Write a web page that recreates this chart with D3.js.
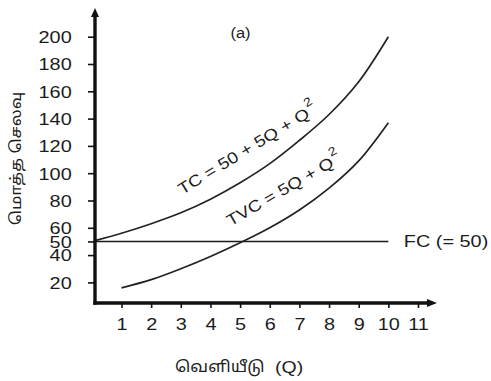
<!DOCTYPE html>
<html>
<head>
<meta charset="utf-8">
<script src="https://cdn.jsdelivr.net/npm/d3@7"></script>
<style>
  html, body { margin: 0; padding: 0; background: #fff; }
  svg { display: block; }
  text { font-family: "Liberation Sans", Arial, Helvetica, sans-serif; fill: #1c1c1c; }
  .tamil { font-family: "Noto Sans Tamil", "Lohit Tamil", "Latha", "Noto Sans", sans-serif; }
</style>
</head>
<body>
<svg id="chart" width="491" height="381"></svg>
<script>
// Output levels and cost readings
const quantity = [0, 1, 2, 3, 4, 5, 6, 7, 8, 9, 10];
const totalCost = [50, 56, 63, 71, 81, 93, 107, 124, 143, 167, 200];
const variableQuantity = [1, 2, 3, 4, 5, 6, 7, 8, 9, 10];
const totalVariableCost = [16, 22, 30, 39, 49, 60, 73, 89, 109, 137];
const fixedCostLevel = 50;
const fixedCostRange = [0, 10];

const xTicks = [1, 2, 3, 4, 5, 6, 7, 8, 9, 10, 11];
const yTicks = [20, 40, 50, 60, 80, 100, 120, 140, 160, 180, 200];

const xTitleWord = "வெளியீடு";
const xTitleSymbol = "(Q)";
const yTitle = "மொத்த செலவு";
const panelTag = "(a)";
const fcLabel = "FC (= 50)";

const svg = d3.select("#chart");
const W = 491, H = 381;

const axisX = 95;     // where the vertical axis sits
const axisY = 303;    // where the horizontal axis sits
const stretch = 1.22; // horizontal stretch of the lettering
const fontPx = 16.3;

const x = d3.scaleLinear().domain([1, 11]).range([121.5, 418]);
const y = d3.scaleLinear().domain([20, 200]).range([282.4, 36.7]);

// clip so curves start at the vertical axis
svg.append("defs").append("clipPath").attr("id", "plotClip")
  .append("rect").attr("x", axisX).attr("y", 0).attr("width", W - axisX).attr("height", axisY);

const line = d3.line()
  .x(d => x(d[0]))
  .y(d => y(d[1]))
  .curve(d3.curveCatmullRom.alpha(0.5));

const plot = svg.append("g").attr("clip-path", "url(#plotClip)");

// fixed cost
plot.append("line")
  .attr("x1", x(fixedCostRange[0])).attr("x2", x(fixedCostRange[1]))
  .attr("y1", y(fixedCostLevel)).attr("y2", y(fixedCostLevel))
  .attr("stroke", "#1a1a1a").attr("stroke-width", 1.4);

// total cost
plot.append("path")
  .datum(d3.zip(quantity, totalCost))
  .attr("d", line)
  .attr("fill", "none").attr("stroke", "#222").attr("stroke-width", 1.7);

// total variable cost
plot.append("path")
  .datum(d3.zip(variableQuantity, totalVariableCost))
  .attr("d", line)
  .attr("fill", "none").attr("stroke", "#222").attr("stroke-width", 1.7);

// y axis ticks and labels
const yAxisG = svg.append("g")
  .attr("transform", `translate(${axisX},0)`)
  .call(d3.axisLeft(y).tickValues(yTicks).tickSize(7).tickPadding(16.3).tickSizeOuter(0));
yAxisG.select(".domain").remove();
yAxisG.selectAll(".tick line").attr("stroke", "#111").attr("stroke-width", 1.6);
yAxisG.selectAll(".tick text")
  .attr("font-size", fontPx).attr("font-family", null)
  .attr("fill", "#1c1c1c")
  .each(function () {
    const t = d3.select(this);
    const tx = +t.attr("x");
    t.attr("x", 0).attr("dy", null).attr("y", 0)
      .attr("transform", `translate(${tx},5.8) scale(${stretch},1)`);
  });

// x axis ticks and labels
const xAxisG = svg.append("g")
  .attr("transform", `translate(0,${axisY})`)
  .call(d3.axisBottom(x).tickValues(xTicks).tickSize(5).tickPadding(10).tickSizeOuter(0));
xAxisG.select(".domain").remove();
xAxisG.selectAll(".tick line").attr("stroke", "#111").attr("stroke-width", 1.6);
xAxisG.selectAll(".tick text")
  .attr("font-size", fontPx).attr("font-family", null)
  .attr("fill", "#1c1c1c")
  .each(function () {
    const t = d3.select(this);
    t.attr("y", 0).attr("dy", null)
      .attr("transform", `translate(0,26.5) scale(${stretch},1)`);
  });

// axis lines with arrowheads
svg.append("line")
  .attr("x1", axisX).attr("x2", axisX).attr("y1", axisY + 1.7).attr("y2", 15)
  .attr("stroke", "#111").attr("stroke-width", 3.4);
svg.append("path")
  .attr("d", `M${axisX},8 L${axisX - 4},17 L${axisX + 4},17 Z`)
  .attr("fill", "#111");
svg.append("line")
  .attr("x1", axisX - 1.7).attr("x2", 429).attr("y1", axisY).attr("y2", axisY)
  .attr("stroke", "#111").attr("stroke-width", 3.4);
svg.append("path")
  .attr("d", `M437,${axisY} L427,${axisY - 4} L427,${axisY + 4} Z`)
  .attr("fill", "#111");

// axis titles
svg.append("text")
  .attr("class", "tamil")
  .attr("transform", `translate(20.5,158.5) rotate(-90) scale(1.12,1)`)
  .attr("text-anchor", "middle")
  .attr("font-size", 15)
  .text(yTitle);

svg.append("text")
  .attr("class", "tamil")
  .attr("transform", `translate(175,372) scale(1.1,1)`)
  .attr("font-size", 15.5)
  .text(xTitleWord);
svg.append("text")
  .attr("transform", `translate(275,373) scale(${stretch},1)`)
  .attr("font-size", 16)
  .text(xTitleSymbol);

// panel tag
svg.append("text")
  .attr("transform", `translate(240.5,38) scale(1.1,1)`)
  .attr("text-anchor", "middle")
  .attr("font-size", 15)
  .text(panelTag);

// fixed cost label
svg.append("text")
  .attr("transform", `translate(${x(10.52)},${y(fixedCostLevel) + 6}) scale(${stretch},1)`)
  .attr("font-size", fontPx)
  .text(fcLabel);

// curve equations
function equation(label, qx, vy, angle, sx) {
  const t = svg.append("text")
    .attr("transform", `translate(${x(qx)},${y(vy)}) rotate(${angle}) scale(${sx},1)`)
    .attr("font-size", 16);
  t.append("tspan").text(label);
  t.append("tspan").attr("dy", -10).attr("dx", 1).attr("font-size", 12).text("2");
}
equation("TC = 50 + 5Q + Q", 3.05, 84, -31.4, 1.18);
equation("TVC = 5Q + Q", 4.68, 61, -30.1, 1.18);
</script>
</body>
</html>
